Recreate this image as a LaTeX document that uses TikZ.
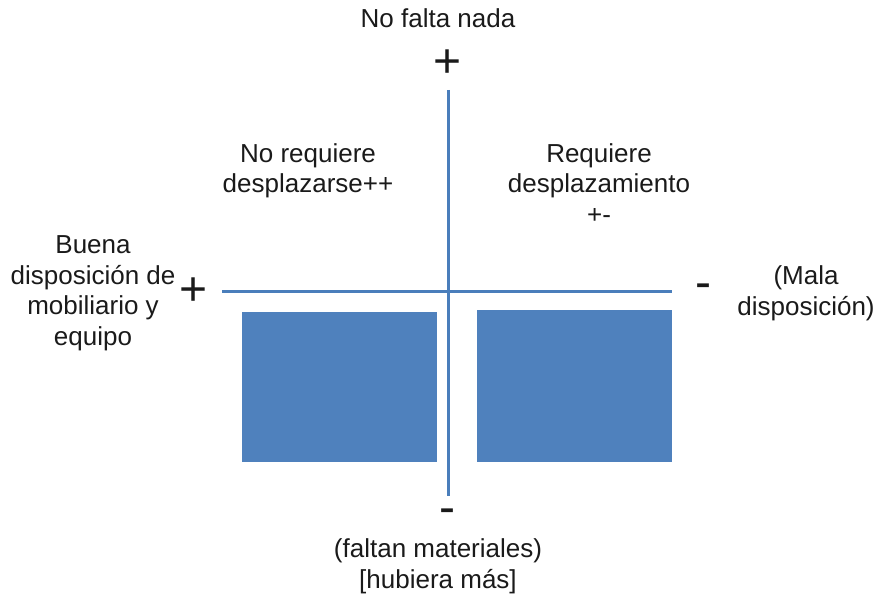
\documentclass[tikz,border=0pt]{standalone}
\usepackage{fontspec}
\setmainfont{Liberation Sans}
\definecolor{qblue}{HTML}{4F81BD}
\definecolor{qline}{HTML}{4A7EBB}
\definecolor{qtext}{HTML}{1A1A1A}
\begin{document}
\begin{tikzpicture}[x=1pt,y=-1pt,
  lbl/.style={align=center,anchor=base,inner sep=0pt,text=qtext,font=\fontsize{26}{30.5}\selectfont},
  sign/.style={anchor=center,inner sep=0pt,text=qtext,font=\fontsize{48}{48}\selectfont},
  axis/.style={draw=qline,line width=3pt},
  blk/.style={fill=qblue,draw=none}]
\useasboundingbox (0,0) rectangle (878,604);
\coordinate (vt) at (448,90);
\coordinate (vb) at (448,496);
\coordinate (hl) at (222,291);
\coordinate (hr) at (672,291);
\fill[blk] (242,312) rectangle (437,462);
\fill[blk] (477,310) rectangle (672,462);
\draw[axis] (vt) -- (vb);
\draw[axis] (hl) -- (hr);
\node[lbl] (top) at (438,28) {No falta nada};
\node[sign] (ptop) at (448,64) {+};
\node[sign] (pleft) at (194,292) {+};
\node[sign] (mright) at (703,291) {-};
\node[sign] (mbot) at (447,516) {-};
\node[lbl] (left) at (93,345) {Buena\\disposición de\\mobiliario y\\equipo};
\node[lbl] (right) at (806,315) {(Mala\\disposición)};
\node[lbl] (q1) at (308,193) {No requiere\\desplazarse++};
\node[lbl] (q2) at (599,223) {Requiere\\desplazamiento\\+-};
\node[lbl] (bot) at (438,588) {(faltan materiales)\\{[hubiera más]}};
\end{tikzpicture}
\end{document}
